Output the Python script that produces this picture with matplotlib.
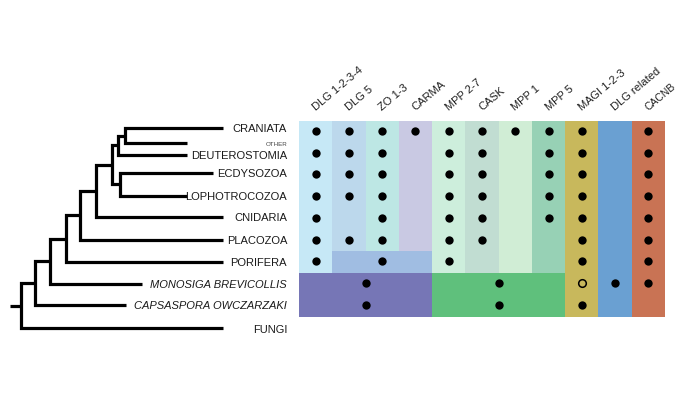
import matplotlib
matplotlib.use("Agg")
import matplotlib.pyplot as plt

plt.rcParams['font.family'] = ['Liberation Sans', 'DejaVu Sans']

# gene families (columns of the presence grid)
genes = ['DLG 1-2-3-4', 'DLG 5', 'ZO 1-3', 'CARMA', 'MPP 2-7', 'CASK',
         'MPP 1', 'MPP 5', 'MAGI 1-2-3', 'DLG related', 'CACNB']
gene_colors = ['#c6e8f6', '#bcd8ec', '#bde7e4', '#c9c9e3', '#cdeedc', '#c1ddd2',
               '#d0edd5', '#97d1b5', '#c8b85c', '#6aa0d2', '#c97354']
# how many taxa rows each column covers before merged blocks take over
gene_rows = [7, 7, 7, 7, 7, 7, 7, 7, 9, 9, 9]

# merged blocks: (first col, last col + 1, first row, last row + 1, colour)
blocks = [(1, 4, 6, 7, '#a0bde2'),
          (0, 4, 7, 9, '#7676b6'),
          (4, 8, 7, 9, '#5fc07c')]

# presence per taxon row; an int is a column, a tuple is a merged span
presence = [
    [0, 1, 2, 3, 4, 5, 6, 7, 8, 10],      # craniata
    [0, 1, 2, 4, 5, 7, 8, 10],            # deuterostomia
    [0, 1, 2, 4, 5, 7, 8, 10],            # ecdysozoa
    [0, 1, 2, 4, 5, 7, 8, 10],            # lophotrocozoa
    [0, 2, 4, 5, 7, 8, 10],               # cnidaria
    [0, 1, 2, 4, 5, 8, 10],               # placozoa
    [0, 2, 4, 8, 10],                     # porifera
    [(0, 4), (4, 8), 8, 9, 10],           # monosiga
    [(0, 4), (4, 8), 8],                  # capsaspora
]
open_marks = [(7, 8)]  # (row, col) shown as open circle

# tree tips: name, row position, x where the branch stops
tip_names = ['CRANIATA', 'OTHER', 'DEUTEROSTOMIA', 'ECDYSOZOA', 'LOPHOTROCOZOA',
             'CNIDARIA', 'PLACOZOA', 'PORIFERA', 'MONOSIGA BREVICOLLIS',
             'CAPSASPORA OWCZARZAKI', 'FUNGI']
tip_rows = [0.34, 1.03, 1.56, 2.38, 3.45, 4.40, 5.47, 6.47, 7.51, 8.46, 9.54]
tip_ends = [222.7, 187, 187, 213, 187, 222.7, 222.7, 222.7, 141.7, 126, 222.7]

# internal nodes: name, x of node, two children
clades = [
    ('n1', 125, 'CRANIATA', 'OTHER'),
    ('n2', 118.3, 'n1', 'DEUTEROSTOMIA'),
    ('n3', 120, 'ECDYSOZOA', 'LOPHOTROCOZOA'),
    ('n4', 112.3, 'n2', 'n3'),
    ('n5', 96, 'n4', 'CNIDARIA'),
    ('n6', 80, 'n5', 'PLACOZOA'),
    ('n7', 65.7, 'n6', 'PORIFERA'),
    ('n8', 50, 'n7', 'MONOSIGA BREVICOLLIS'),
    ('n9', 35, 'n8', 'CAPSASPORA OWCZARZAKI'),
    ('root', 20.7, 'n9', 'FUNGI'),
]
root_stub = 10

W, H = 685, 400
fig = plt.figure(figsize=(W / 100, H / 100), dpi=100)

# grid placement in pixels
gx0, gx1, gy0, gy1 = 299, 665, 121, 316.7
row_px = (gy1 - gy0) / 9
gax = fig.add_axes([gx0 / W, 1 - gy1 / H, (gx1 - gx0) / W, (gy1 - gy0) / H])
gax.set_xlim(0, len(genes))
gax.set_ylim(9, 0)
gax.axis('off')

for i, (c, n) in enumerate(zip(gene_colors, gene_rows)):
    gax.bar(i, n, bottom=0, width=1, align='edge', color=c, linewidth=0)
for c0, c1, r0, r1, c in blocks:
    gax.bar(c0, r1 - r0, bottom=r0, width=c1 - c0, align='edge', color=c, linewidth=0)

xs, ys = [], []
for r, cols in enumerate(presence):
    for c in cols:
        if isinstance(c, tuple):
            x = (c[0] + c[1]) / 2
        else:
            x = c + 0.5
        if (r, c) in open_marks:
            gax.scatter(x, r + 0.45, s=30, facecolor=gene_colors[c],
                        edgecolor='black', linewidth=1.1, zorder=3)
        else:
            xs.append(x)
            ys.append(r + 0.45)
gax.scatter(xs, ys, s=36, color='black', linewidth=0, zorder=3)

for i, g in enumerate(genes):
    fs = 7.5 if g == 'CACNB' else 8
    gax.text(i + 0.5, -0.45, g, rotation=40, rotation_mode='anchor',
             ha='left', va='baseline', fontsize=fs, color='#1e1e1e', clip_on=False)

# tree axes, same row scale as the grid
ty1 = 340
tax = fig.add_axes([0, 1 - ty1 / H, gx0 / W, (ty1 - gy0) / H])
tax.set_xlim(0, gx0)
tax.set_ylim((ty1 - gy0) / row_px, 0)
tax.axis('off')

pos = {n: (e, r) for n, r, e in zip(tip_names, tip_rows, tip_ends)}
lw = 2.3
for name, x, a, b in clades:
    xa, ya = pos[a]
    xb, yb = pos[b]
    tax.plot([xa, x, x, xb], [ya, ya, yb, yb], color='black', lw=lw,
             solid_joinstyle='miter', solid_capstyle='butt')
    pos[name] = (x, (ya + yb) / 2)
rx, ry = pos['root']
tax.plot([root_stub, rx], [ry, ry], color='black', lw=lw, solid_capstyle='butt')

for n, r in zip(tip_names, tip_rows):
    style = 'italic' if ' ' in n else 'normal'
    fs = 4.5 if n == 'OTHER' else 8
    col = '#444444' if n == 'OTHER' else '#1a1a1a'
    tax.text(287, r + 0.05, n, ha='right', va='center', fontsize=fs,
             style=style, color=col)

fig.savefig('out.png', dpi=100)
